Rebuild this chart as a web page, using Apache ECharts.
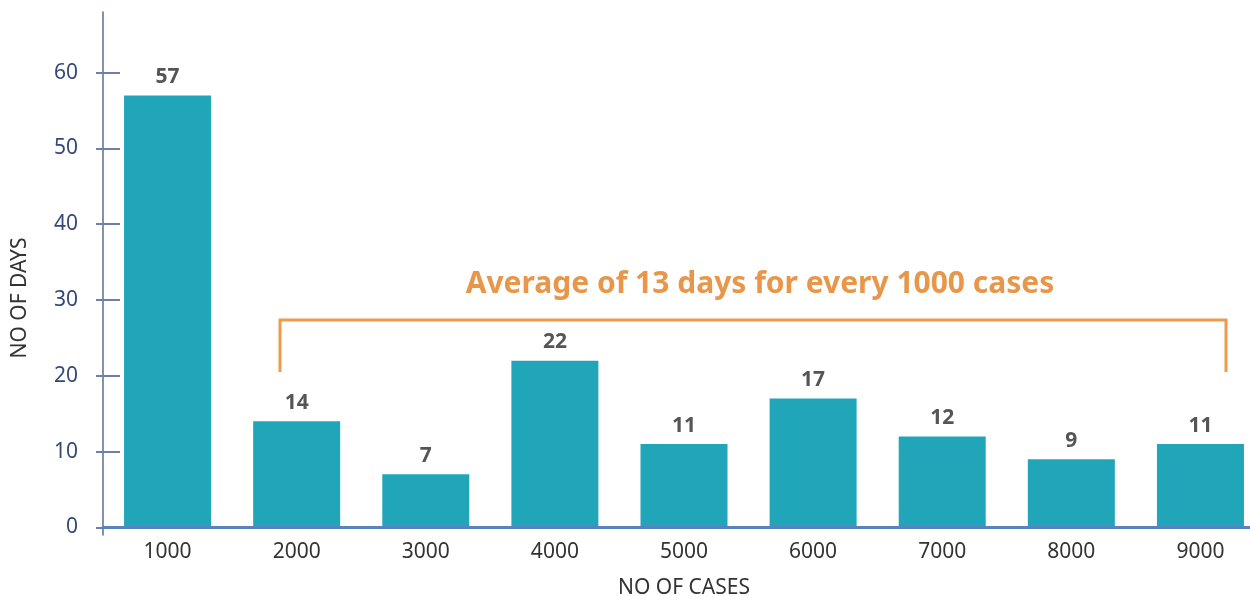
<!DOCTYPE html>
<html>
<head>
<meta charset="utf-8">
<script src="https://cdn.jsdelivr.net/npm/echarts@6/dist/echarts.min.js"></script>
<style>
  html, body { margin: 0; padding: 0; background: #fff; }
  #chart { width: 1250px; height: 596px; }
</style>
</head>
<body>
<div id="chart"></div>
<script>
const cases = ['1000', '2000', '3000', '4000', '5000', '6000', '7000', '8000', '9000'];
const days = [57, 14, 7, 22, 11, 17, 12, 9, 11];
const dayTicks = [0, 10, 20, 30, 40, 50, 60];
const noteText = 'Average of 13 days for every 1000 cases';

const font = '"Noto Sans", sans-serif';
const chart = echarts.init(document.getElementById('chart'));

const option = {
  animation: false,
  textStyle: { fontFamily: font },
  grid: { left: 103, right: -15, top: 12, bottom: 61, outerBoundsMode: 'none', containLabel: false },
  xAxis: {
    type: 'category',
    data: cases,
    z: 3,
    name: 'NO OF CASES',
    nameLocation: 'middle',
    nameGap: 43,
    nameTextStyle: { fontSize: 21, color: '#333', fontFamily: font },
    axisLine: { onZero: true, lineStyle: { color: '#5a82be', width: 3 } },
    axisTick: { show: false },
    axisLabel: { fontSize: 21, color: '#333', margin: 7, fontFamily: font }
  },
  yAxis: [
    {
      type: 'value',
      min: -1,
      max: 68,
      splitLine: { show: false },
      axisLine: { show: true, lineStyle: { color: '#5d6b8c', width: 1.5 } },
      axisTick: { show: true, length: 7, customValues: dayTicks, lineStyle: { color: '#6f7fa6', width: 2 } },
      axisLabel: { fontSize: 21, color: '#34497a', margin: 25, customValues: dayTicks, fontFamily: font }
    },
    {
      // inner half of the ticks
      type: 'value',
      position: 'left',
      min: -1,
      max: 68,
      splitLine: { show: false },
      axisLine: { show: false },
      axisTick: { show: true, inside: true, length: 17, customValues: dayTicks.slice(1), lineStyle: { color: '#6f7fa6', width: 2 } },
      axisLabel: { show: false }
    }
  ],
  series: [
    {
      type: 'bar',
      data: days,
      barWidth: 87,
      itemStyle: { color: '#20a6b8' },
      label: {
        show: true,
        position: 'top',
        distance: 8,
        fontSize: 21,
        fontWeight: 'bold',
        color: '#555',
        fontFamily: font
      }
    }
  ],
  graphic: [
    {
      type: 'text',
      x: 20,
      y: 298,
      rotation: Math.PI / 2,
      style: {
        text: 'NO OF DAYS',
        fontSize: 21,
        fill: '#333',
        fontFamily: font,
        align: 'center',
        verticalAlign: 'middle'
      }
    },
    {
      type: 'text',
      x: 760,
      y: 284,
      style: {
        text: noteText,
        fontSize: 30,
        fontWeight: 'bold',
        fill: '#e8974a',
        fontFamily: font,
        align: 'center',
        verticalAlign: 'middle'
      }
    },
    {
      type: 'polyline',
      shape: { points: [[280, 372], [280, 320], [1226, 320], [1226, 372]] },
      style: { stroke: '#ee9a4d', lineWidth: 3, fill: null }
    }
  ]
};

chart.setOption(option);
window.addEventListener('resize', () => chart.resize());
</script>
</body>
</html>
